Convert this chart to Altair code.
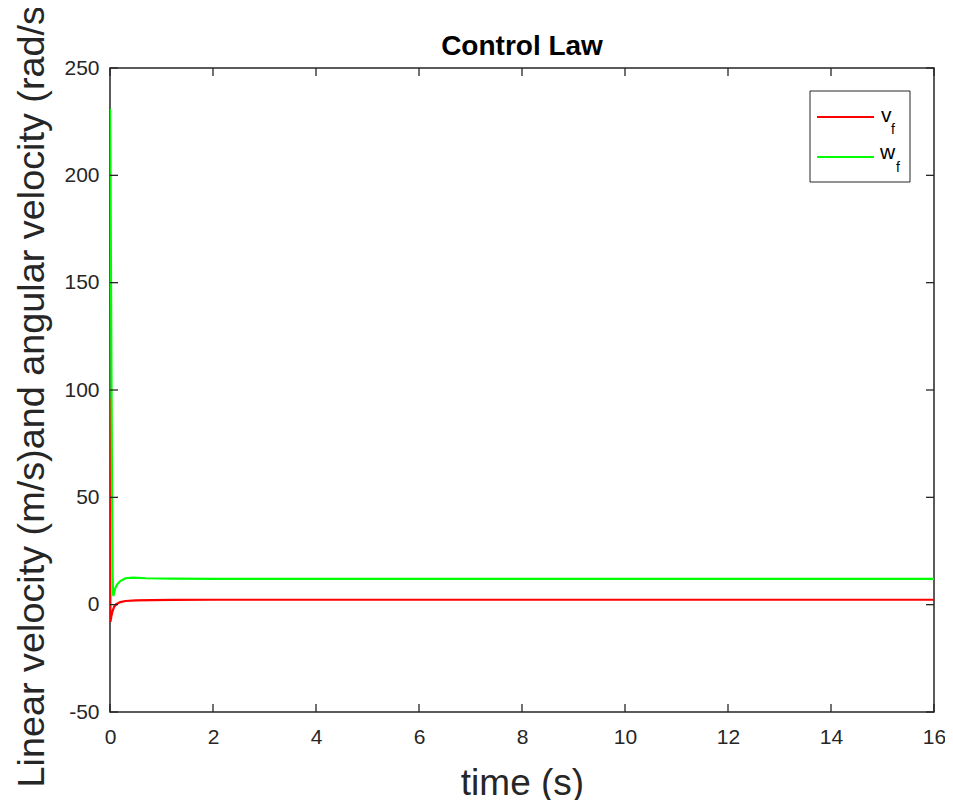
import altair as alt
import pandas as pd

# ---- data ----
t_v = [0.0, 0.003, 0.008, 0.015, 0.03, 0.05, 0.08, 0.12, 0.2, 0.3, 0.5, 0.8, 1.2, 2.0, 5.0, 16.0]
v_f = [96.0, 20.0, -8.0, -7.0, -5.0, -3.0, -1.0, 0.2, 1.2, 1.7, 2.0, 2.15, 2.25, 2.3, 2.3, 2.3]

t_w = [0.0, 0.01, 0.02, 0.03, 0.04, 0.05, 0.058, 0.065, 0.08, 0.1, 0.14, 0.2, 0.3, 0.45, 0.7, 1.2, 2.0, 16.0]
w_f = [231.0, 200.0, 150.0, 100.0, 50.0, 15.0, 6.0, 4.0, 5.5, 7.5, 9.5, 11.0, 12.3, 12.6, 12.3, 12.1, 12.0, 12.0]

x_ticks = [0, 2, 4, 6, 8, 10, 12, 14, 16]
y_ticks = [-50, 0, 50, 100, 150, 200, 250]

series_names = ["v_f", "w_f"]
series_colors = ["#FF0000", "#00FF00"]

W, H = 824, 644
FONT = "Liberation Sans"
DARK = "#262626"

df = pd.concat([
    pd.DataFrame({"t": t_v, "val": v_f, "series": "v_f", "order": 0}),
    pd.DataFrame({"t": t_w, "val": w_f, "series": "w_f", "order": 1}),
])

xscale = alt.Scale(domain=[0, 16], nice=False, zero=False)
yscale = alt.Scale(domain=[-50, 250], nice=False, zero=False)

x_axis = alt.Axis(values=x_ticks, grid=False, domain=False, ticks=False,
                  labelFontSize=21, labelFont=FONT, labelColor=DARK,
                  labelExpr="toString(datum.value)", labelFlush=False,
                  labelPadding=14, title="time (s)", titleFont=FONT,
                  titleFontSize=37, titleFontWeight="normal", titleColor=DARK,
                  titleX=W / 2, titleY=82, titleAlign="center", titleBaseline="alphabetic")
y_axis = alt.Axis(values=y_ticks, grid=False, domain=False, ticks=False,
                  labelFontSize=21, labelFont=FONT, labelColor=DARK,
                  labelExpr="toString(datum.value)", labelFlush=False,
                  labelPadding=11, title="Linear velocity (m/s)and angular velocity (rad/s)",
                  titleFont=FONT, titleFontSize=37.8, titleFontWeight="normal",
                  titleColor=DARK, titleAngle=270, titleX=-67, titleY=719,
                  titleAlign="left", titleBaseline="alphabetic")

lines = alt.Chart(df).mark_line(strokeWidth=2.2, clip=True).encode(
    x=alt.X("t:Q", scale=xscale, axis=x_axis),
    y=alt.Y("val:Q", scale=yscale, axis=y_axis),
    color=alt.Color("series:N", scale=alt.Scale(domain=series_names, range=series_colors), legend=None),
    order=alt.Order("order:Q"),
    detail="series:N",
)

xt = pd.DataFrame({"t": x_ticks})
yt = pd.DataFrame({"val": y_ticks})
xb = alt.Chart(xt).mark_rule(color=DARK, strokeWidth=1.3).encode(
    x=alt.X("t:Q", scale=xscale), y=alt.value(H), y2=alt.value(H - 8))
xtp = alt.Chart(xt).mark_rule(color=DARK, strokeWidth=1.3).encode(
    x=alt.X("t:Q", scale=xscale), y=alt.value(0), y2=alt.value(8))
yl = alt.Chart(yt).mark_rule(color=DARK, strokeWidth=1.3).encode(
    y=alt.Y("val:Q", scale=yscale), x=alt.value(0), x2=alt.value(8))
yr = alt.Chart(yt).mark_rule(color=DARK, strokeWidth=1.3).encode(
    y=alt.Y("val:Q", scale=yscale), x=alt.value(W), x2=alt.value(W - 8))

one = pd.DataFrame({"a": [0]})
leg_box = alt.Chart(one).mark_rect(fill="white", stroke=DARK, strokeWidth=1).encode(
    x=alt.value(700), x2=alt.value(800), y=alt.value(23), y2=alt.value(114))
leg_r = alt.Chart(one).mark_rule(color=series_colors[0], strokeWidth=2.2).encode(
    x=alt.value(707), x2=alt.value(764), y=alt.value(49))
leg_g = alt.Chart(one).mark_rule(color=series_colors[1], strokeWidth=2.2).encode(
    x=alt.value(707), x2=alt.value(764), y=alt.value(89))

def txt(s, x, y, size, weight="normal", align="left"):
    return alt.Chart(one).mark_text(text=s, align=align, baseline="alphabetic",
                                    font=FONT, fontSize=size, fontWeight=weight,
                                    color="#000000").encode(
        x=alt.value(x), y=alt.value(y))

legend = [leg_box, leg_r, leg_g,
          txt("v", 771, 54, 21), txt("f", 781, 66, 14),
          txt("w", 770, 91, 21), txt("f", 786, 104, 14)]

title = txt("Control Law", W / 2, -13, 28, weight="bold", align="center")

chart = alt.layer(lines, xb, xtp, yl, yr, *legend, title).properties(
    width=W, height=H,
    autosize=alt.AutoSizeParams(type="none"),
    padding={"left": 102, "top": 60, "right": 11, "bottom": 88},
).configure(background="white").configure_view(stroke=DARK, strokeWidth=1.5)

chart.save("out.html", embed_options={"renderer": "svg", "actions": False})
